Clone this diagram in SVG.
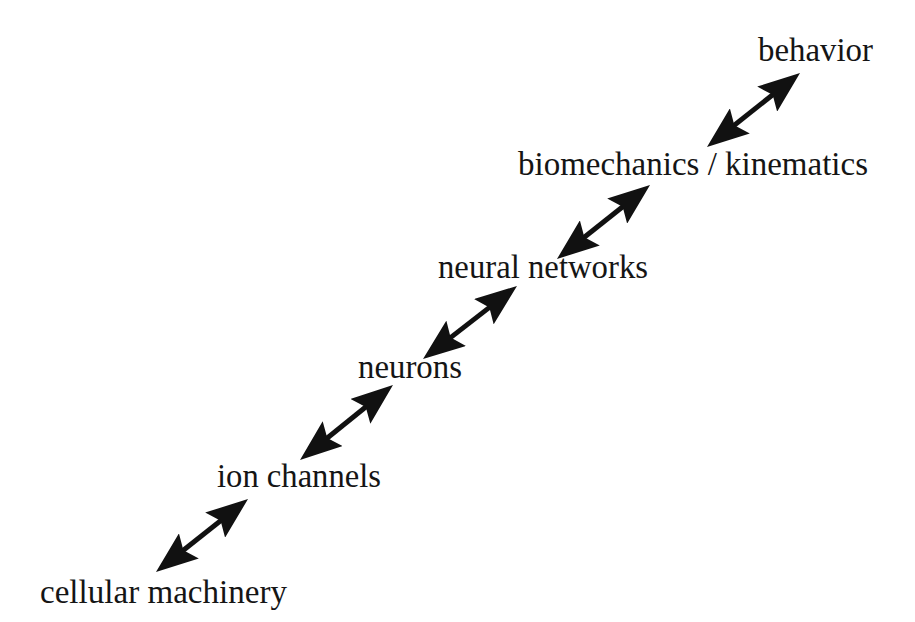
<svg xmlns="http://www.w3.org/2000/svg" width="915" height="622" viewBox="0 0 915 622">
<style>
.lbl{font-family:"Liberation Serif","Times New Roman",serif;font-size:33px;fill:#151515}
.conn line{stroke:#111;stroke-width:5;fill:none}
</style>
<defs>
<marker id="ah" viewBox="0 0 42 32" markerWidth="42" markerHeight="32" refX="32" refY="16" orient="auto-start-reverse" markerUnits="userSpaceOnUse">
<path d="M0,0 L42,16 L0,32 L7,16 z" fill="#111"/>
</marker>
</defs>
<rect width="915" height="622" fill="#fff"/>
<g id="connectors" class="conn">
<line x1="163.8" y1="565.8" x2="240.2" y2="505.2" marker-start="url(#ah)" marker-end="url(#ah)"/>
<line x1="307.8" y1="453.7" x2="385.2" y2="391.3" marker-start="url(#ah)" marker-end="url(#ah)"/>
<line x1="430.9" y1="352.9" x2="509.1" y2="292.1" marker-start="url(#ah)" marker-end="url(#ah)"/>
<line x1="564.8" y1="252.8" x2="642.2" y2="191.2" marker-start="url(#ah)" marker-end="url(#ah)"/>
<line x1="714.8" y1="140.8" x2="792.2" y2="79.2" marker-start="url(#ah)" marker-end="url(#ah)"/>
</g>
<g id="behavior"><text class="lbl" x="758" y="61" textLength="115" lengthAdjust="spacingAndGlyphs">behavior</text></g>
<g id="biomechanics"><text class="lbl" x="518" y="175" textLength="350" lengthAdjust="spacingAndGlyphs">biomechanics / kinematics</text></g>
<g id="neural-networks"><text class="lbl" x="438" y="278" textLength="210" lengthAdjust="spacingAndGlyphs">neural networks</text></g>
<g id="neurons"><text class="lbl" x="358" y="378" textLength="104" lengthAdjust="spacingAndGlyphs">neurons</text></g>
<g id="ion-channels"><text class="lbl" x="217" y="487" textLength="164" lengthAdjust="spacingAndGlyphs">ion channels</text></g>
<g id="cellular-machinery"><text class="lbl" x="40" y="603" textLength="247" lengthAdjust="spacingAndGlyphs">cellular machinery</text></g>
</svg>
